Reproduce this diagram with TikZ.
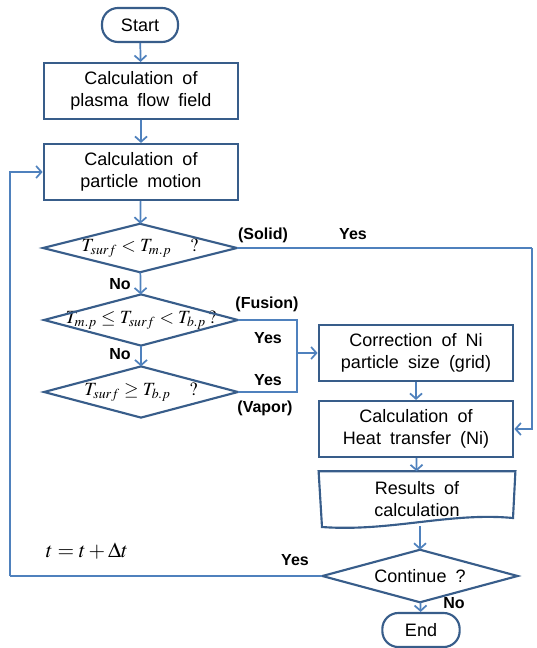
\documentclass[tikz,border=0pt]{standalone}
\usepackage{mathptmx}
\usepackage[no-math]{fontspec}
\setsansfont{Liberation Sans}[WordSpace=1.8]
\renewcommand{\familydefault}{\sfdefault}
\usetikzlibrary{arrows.meta}

\definecolor{boxblue}{RGB}{56,93,138}
\definecolor{lineblue}{RGB}{79,129,189}

\tikzset{
  proc/.style={draw=boxblue, line width=1.6pt, minimum width=146pt, minimum height=42pt,
    align=center, inner sep=1pt, font=\fontsize{13.5}{16.5}\selectfont},
  term/.style={proc, rounded corners=12pt, minimum width=57pt, minimum height=25.5pt},
  decide/.style={minimum width=145pt, minimum height=38pt, inner sep=0pt,
    font=\fontsize{14}{16}\selectfont},
  flow/.style={draw=lineblue, line width=1.3pt, -{Straight Barb[length=4pt,width=9pt]}},
  link/.style={draw=lineblue, line width=1.1pt},
  lbl/.style={font=\bfseries\fontsize{12}{14}\selectfont}
}

\begin{document}
\begin{tikzpicture}[x=0.75pt, y=-0.75pt]
        \useasboundingbox (0,0) rectangle (536,648);

        % main column
        \node[term] (start) at (140,25) {Start};
        \node[proc] (plasma) at (141,91) {Calculation of\\plasma flow field};
        \node[proc] (motion) at (141,172) {Calculation of\\particle motion};

        % phase checks
        \node[decide, minimum height=36pt] (solid) at (140,248) {$T_{surf} < T_{m.p}\ \ ?$};
        \node[decide] (fusion) at (141,320) {$T_{m.p} \leq T_{surf} < T_{b.p}\,?$};
        \node[decide] (vapor) at (141,392) {$T_{surf} \geq T_{b.p}\ \ ?$};

        % right column
        \node[proc] (correct) at (416,353) {Correction of Ni\\particle size (grid)};
        \node[proc] (heat) at (416,429) {Calculation of\\Heat transfer (Ni)};
        \node[proc, draw=none, minimum height=40pt] (result) at (417,499) {Results of\\calculation};
        \node[decide, minimum width=146pt, minimum height=39pt,
              font=\fontsize{13.5}{16}\selectfont] (cont) at (420,576) {Continue ?};
        \node[term, minimum width=58pt] (end) at (421,630) {End};

        \foreach \d in {solid,fusion,vapor,cont}
          \draw[boxblue, line width=1.6pt, line join=miter]
            (\d.north) -- (\d.east) -- (\d.south) -- (\d.west) -- cycle;

        \draw[boxblue, line width=1.6pt]
          (322,527) -- (result.north west) -- (result.north east) -- (513,518)
          .. controls (450,512) and (390,532) .. (322,527) -- cycle;

        \coordinate (rt) at (532,248);
        \coordinate (jn) at (297,353);
        \coordinate (lft) at (10,576);
        \coordinate (wave) at (420,526);

        % connectors
        \draw[flow] (start) -- (plasma);
        \draw[flow] (plasma) -- (motion);
        \draw[flow] (motion) -- (solid);
        \draw[flow] (solid) -- (fusion);
        \draw[flow] (fusion) -- (vapor);
        \draw[link] (solid.east) -- (rt);
        \draw[flow] (rt) |- (heat.east);
        \draw[link] (fusion.east) -| (jn) |- (vapor.east);
        \draw[flow] (jn) -- (correct.west);
        \draw[flow] (correct) -- (heat);
        \draw[flow] (heat) -- (result);
        \draw[flow] (wave) -- (cont.north);
        \draw[flow] (cont) -- (end);
        \draw[link] (cont.west) -- (lft);
        \draw[flow] (lft) |- (motion.west);

        % labels
        \node[lbl] (lsolid) at (263,235) {(Solid)};
        \node[lbl] (ysolid) at (353,234) {Yes};
        \node[lbl] (nsolid) at (120,284) {No};
        \node[lbl] (lfusion) at (267,304) {(Fusion)};
        \node[lbl] (yfusion) at (268,338) {Yes};
        \node[lbl] (nfusion) at (120,354) {No};
        \node[lbl] (yvapor) at (268,380) {Yes};
        \node[lbl] (lvapor) at (265,408) {(Vapor)};
        \node[lbl] (ycont) at (295,560) {Yes};
        \node[lbl] (ncont) at (454,603) {No};
        \node[font=\fontsize{16}{18}\selectfont] (step) at (87,551) {$t = t + \Delta t$};
\end{tikzpicture}
\end{document}
